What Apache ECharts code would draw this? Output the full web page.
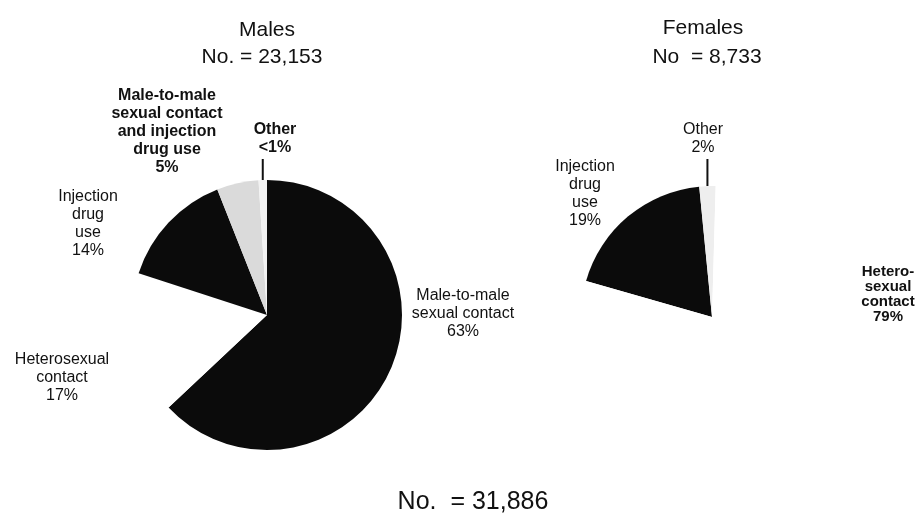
<!DOCTYPE html>
<html><head><meta charset="utf-8">
<script src="https://cdn.jsdelivr.net/npm/echarts@6/dist/echarts.min.js"></script>
<style>html,body{margin:0;padding:0;background:#fff}#c{width:922px;height:520px}</style>
</head><body><div id="c"></div>
<script>
// ---- data ----
const maleCategories = ['Male-to-male sexual contact', 'Heterosexual contact', 'Injection drug use', 'Male-to-male sexual contact and injection drug use', 'Other'];
const maleValues = [63, 17, 14, 5, 1];
const maleLabels = ['Male-to-male\nsexual contact\n63%', 'Heterosexual\ncontact\n17%', 'Injection\ndrug\nuse\n14%', 'Male-to-male\nsexual contact\nand injection\ndrug use\n5%', 'Other\n<1%'];
const femaleCategories = ['Injection drug use', 'Other', 'Heterosexual contact'];
const femaleValues = [19, 2, 79];
const femaleLabels = ['Injection\ndrug\nuse\n19%', 'Other\n2%', 'Hetero-\nsexual\ncontact\n79%'];
const maleTitleLines = ['Males', 'No. = 23,153'];
const femaleTitleLines = ['Females', 'No  = 8,733'];
const totalTitle = 'No.  = 31,886';

// ---- styling / layout ----
const FONT = '"Liberation Sans", Arial, sans-serif';
const maleColors = ['#0b0b0b', '#ffffff', '#0b0b0b', '#dadada', '#f2f2f2'];
const femaleColors = ['#0b0b0b', '#eeeeee', '#ffffff'];
const maleWeights = ['normal', 'normal', 'normal', 'bold', 'bold'];
const femaleWeights = ['normal', 'normal', 'bold'];
const maleLabelPos = [[463, 314], [62, 378], [88, 224], [167, 132], [275, 139]];
const femaleLabelPos = [[585, 194], [703, 139], [888, 294]];
const maleLineIdx = [4], femaleLineIdx = [1];

function build(cats, vals, labels, colors, weights, lineIdx) {
  return cats.map((c, i) => ({
    name: c, value: vals[i],
    itemStyle: { color: colors[i] },
    label: { formatter: labels[i], fontWeight: weights[i] },
    labelLine: { show: lineIdx.includes(i) }
  }));
}
function layoutFn(pos, lineIdx) {
  return function (params) {
    const p = pos[params.dataIndex];
    const out = { x: p[0], y: p[1], align: 'center', verticalAlign: 'middle' };
    if (lineIdx.includes(params.dataIndex) && params.labelLinePoints) {
      const a = params.labelLinePoints[0];
      const top = p[1] + params.labelRect.height / 2 + 2;
      out.labelLinePoints = [[a[0], a[1]], [a[0], (a[1] + top) / 2], [a[0], top]];
    }
    return out;
  };
}
const labelStyle = {
  show: true, position: 'outside', color: '#111', fontFamily: FONT,
  fontSize: 16, lineHeight: 18, align: 'center'
};
const titleStyle = { fontFamily: FONT, fontWeight: 'normal', fontSize: 21, lineHeight: 22, color: '#111' };
const chart = echarts.init(document.getElementById('c'), null, { renderer: 'canvas' });
chart.setOption({
  backgroundColor: '#ffffff',
  animation: false,
  title: [
    { text: maleTitleLines[0], left: 262, top: 14, textAlign: 'center', textStyle: titleStyle },
    { text: maleTitleLines[1], left: 257, top: 41, textAlign: 'center', textStyle: titleStyle },
    { text: femaleTitleLines[0], left: 698, top: 12, textAlign: 'center', textStyle: titleStyle },
    { text: femaleTitleLines[1], left: 702, top: 41, textAlign: 'center', textStyle: titleStyle },
    { text: totalTitle, left: 468, top: 484, textAlign: 'center',
      textStyle: { fontFamily: FONT, fontWeight: 'normal', fontSize: 25, lineHeight: 27, color: '#111' } }
  ],
  series: [
    {
      type: 'pie', silent: true, center: [267, 315], radius: [0, 135],
      startAngle: 90, clockwise: true, avoidLabelOverlap: false,
      itemStyle: { borderWidth: 0 },
      label: labelStyle,
      labelLine: { lineStyle: { color: '#111', width: 2 }, length: 20, length2: 0 },
      labelLayout: layoutFn(maleLabelPos, maleLineIdx),
      data: build(maleCategories, maleValues, maleLabels, maleColors, maleWeights, maleLineIdx)
    },
    {
      type: 'pie', silent: true, center: [712, 317], radius: [0, 131],
      startAngle: 164, clockwise: true, avoidLabelOverlap: false,
      itemStyle: { borderWidth: 0 },
      label: Object.assign({}, labelStyle),
      labelLine: { lineStyle: { color: '#111', width: 2 }, length: 20, length2: 0 },
      labelLayout: layoutFn(femaleLabelPos, femaleLineIdx),
      data: build(femaleCategories, femaleValues, femaleLabels, femaleColors, femaleWeights, femaleLineIdx)
        .map((d, i) => i === 2 ? Object.assign(d, { label: Object.assign(d.label, { fontSize: 15, lineHeight: 15 }) }) : d)
    }
  ]
});
</script>
</body></html>
